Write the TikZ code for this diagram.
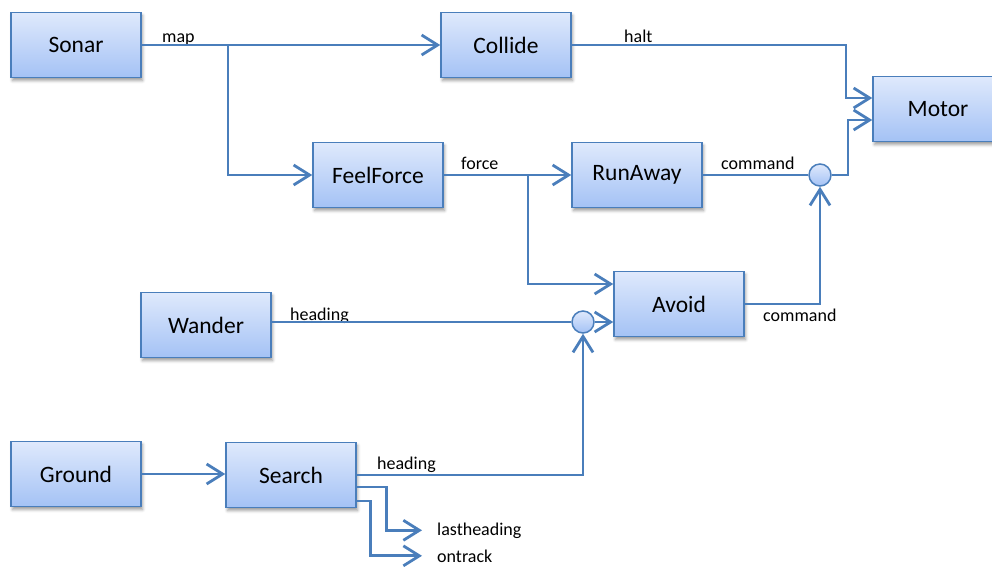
\documentclass[tikz,border=0pt]{standalone}
\usepackage{fontspec}
\setmainfont{Carlito}
\usetikzlibrary{arrows.meta,shadows.blur}
\definecolor{wire}{RGB}{74,126,187}
\definecolor{boxtop}{RGB}{223,233,252}
\definecolor{boxbot}{RGB}{164,194,245}
\tikzset{
  block/.style={draw=wire, line width=1.5pt, top color=boxtop, bottom color=boxbot,
    minimum width=130pt, minimum height=65pt, inner sep=0pt,
    font=\fontsize{23.5}{28}\selectfont,
    blur shadow={shadow xshift=1.5pt, shadow yshift=-3pt, shadow blur radius=3pt, shadow opacity=40}},
  junction/.style={circle, draw=wire, line width=1.5pt, top color=boxtop, bottom color=boxbot,
    minimum size=22pt, inner sep=0pt},
  link/.style={draw=wire, line width=2.8pt},
  flow/.style={link, -{Straight Barb[length=16pt, width=20pt]}},
  lbl/.style={font=\fontsize{18}{21}\selectfont, inner sep=0pt, anchor=base west},
}
\begin{document}
\begin{tikzpicture}[x=1pt, y=-1pt]
\useasboundingbox (0,0) rectangle (992,566);
\clip (0,0) rectangle (992,566);

% behaviour modules
\node[block] (sonar)   at (76,45)   {Sonar};
\node[block] (collide) at (506,45)  {Collide};
\node[block] (motor)   at (938,109) {Motor};
\node[block] (feel)    at (378,175) {FeelForce};
\node[block] (run)     at (637,175) {RunAway};
\node[block] (avoid)   at (679,304) {Avoid};
\node[block] (wander)  at (206,325) {Wander};
\node[block] (ground)  at (76,474)  {Ground};
\node[block] (search)  at (291,475) {Search};

% suppression nodes
\node[junction] (c1) at (820,175) {};
\node[junction] (c2) at (583,322) {};

% branch points
\coordinate (mapsplit)   at (228,45);
\coordinate (forcesplit) at (528,175);
\coordinate (haltbend)   at (846,45);
\coordinate (cmdbend)    at (848,175);

% signal names
\node[lbl] (tmap)   at (162,42)  {map};
\node[lbl] (thalt)  at (624,42)  {halt};
\node[lbl] (tforce) at (461,169) {force};
\node[lbl] (tcmd1)  at (721,169) {command};
\node[lbl] (tcmd2)  at (763,321) {command};
\node[lbl] (thead1) at (290,320) {heading};
\node[lbl] (thead2) at (377,469) {heading};
\node[lbl] (tlast)  at (437,535) {lastheading};
\node[lbl] (ttrack) at (437,562) {ontrack};

% connections
\draw[flow] (sonar.east) -- (collide.west);
\draw[flow] (mapsplit) |- (feel.west);
\draw[flow] (collide.east) -- (haltbend) |- ([yshift=11pt]motor.west);
\draw[link] (run.east) -- (c1.west);
\draw[flow] (c1.east) -- (cmdbend) |- ([yshift=-11pt]motor.west);
\draw[flow] (feel.east) -- (run.west);
\draw[flow] (forcesplit) |- ([yshift=20pt]avoid.west);
\draw[link] (c2 -| wander.east) -- (c2.west);
\draw[flow] (c2.east) -- (c2.east -| avoid.west);
\draw[flow] (avoid.east) -| (c1.south);
\draw[flow] (ground.east) -- (ground.east -| search.west);
\draw[flow] (search.east) -| (c2.south);
\draw[flow] ([yshift=-12pt]search.east) -- ++(30,0) |- ([xshift=-15pt]tlast.west);
\draw[flow] ([yshift=-26pt]search.east) -- ++(14,0) |- ([xshift=-15pt]ttrack.west);
\end{tikzpicture}
\end{document}
